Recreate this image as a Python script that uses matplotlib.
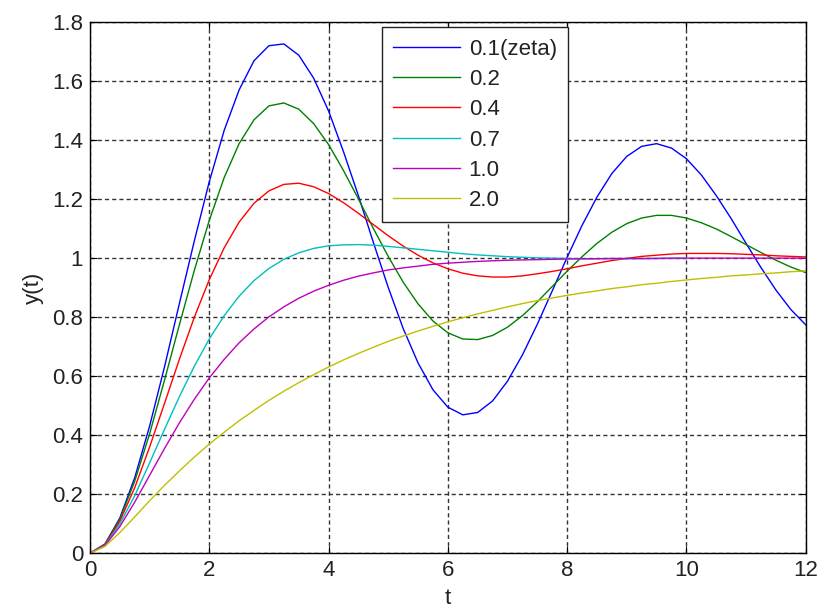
import matplotlib
matplotlib.use("Agg")
import matplotlib.pyplot as plt

plt.rcParams['font.family'] = ['Liberation Sans', 'DejaVu Sans']

t = [i * 0.25 for i in range(49)]

y_01 = [0, 0.031, 0.119, 0.256, 0.431, 0.632, 0.847, 1.059, 1.259, 1.433,
        1.570, 1.669, 1.720, 1.726, 1.688, 1.610, 1.499, 1.361, 1.212, 1.054,
        0.901, 0.762, 0.645, 0.554, 0.495, 0.469, 0.477, 0.516, 0.583, 0.672,
        0.776, 0.889, 1.003, 1.111, 1.207, 1.287, 1.345, 1.379, 1.388, 1.373,
        1.337, 1.282, 1.212, 1.134, 1.050, 0.968, 0.892, 0.826, 0.774]
y_02 = [0, 0.030, 0.115, 0.244, 0.405, 0.587, 0.775, 0.959, 1.128, 1.273,
        1.388, 1.469, 1.516, 1.526, 1.505, 1.456, 1.385, 1.297, 1.201, 1.101,
        1.006, 0.919, 0.845, 0.787, 0.747, 0.726, 0.724, 0.738, 0.766, 0.805,
        0.852, 0.904, 0.956, 1.005, 1.050, 1.088, 1.117, 1.136, 1.145, 1.145,
        1.136, 1.120, 1.099, 1.073, 1.046, 1.019, 0.993, 0.970, 0.951]
y_04 = [0, 0.029, 0.108, 0.222, 0.360, 0.508, 0.658, 0.800, 0.927, 1.035,
        1.122, 1.186, 1.228, 1.250, 1.254, 1.242, 1.219, 1.188, 1.152, 1.114,
        1.076, 1.041, 1.010, 0.984, 0.964, 0.949, 0.940, 0.936, 0.936, 0.940,
        0.947, 0.955, 0.964, 0.974, 0.983, 0.992, 0.999, 1.006, 1.010, 1.014,
        1.016, 1.016, 1.016, 1.015, 1.013, 1.011, 1.008, 1.006, 1.004]
# the 0.7 curve stops at t = 10
y_07 = [0, 0.027, 0.099, 0.195, 0.306, 0.420, 0.531, 0.634, 0.726, 0.805,
        0.871, 0.924, 0.965, 0.996, 1.018, 1.033, 1.042, 1.045, 1.046, 1.044,
        1.040, 1.035, 1.030, 1.025, 1.020, 1.015, 1.011, 1.008, 1.005, 1.003,
        1.001, 1.000, 0.999, 0.998, 0.998, 0.998, 0.998, 0.998, 0.999, 0.999,
        0.999]
y_10 = [0, 0.026, 0.090, 0.173, 0.264, 0.355, 0.442, 0.522, 0.594, 0.657,
        0.713, 0.760, 0.801, 0.835, 0.864, 0.888, 0.908, 0.925, 0.939, 0.950,
        0.960, 0.967, 0.973, 0.979, 0.983, 0.986, 0.989, 0.991, 0.993, 0.994,
        0.995, 0.996, 0.997, 0.998, 0.998, 0.999, 0.999, 0.999, 0.999, 1.0,
        1.0, 1.0, 1.0, 1.0, 1.0, 1.0, 1.0, 1.0, 1.0]
y_20 = [0, 0.023, 0.070, 0.123, 0.178, 0.230, 0.279, 0.326, 0.370, 0.410,
        0.449, 0.484, 0.518, 0.549, 0.578, 0.605, 0.631, 0.655, 0.677, 0.698,
        0.718, 0.736, 0.753, 0.769, 0.784, 0.798, 0.811, 0.823, 0.835, 0.846,
        0.856, 0.865, 0.874, 0.882, 0.889, 0.897, 0.903, 0.910, 0.915, 0.921,
        0.926, 0.931, 0.935, 0.940, 0.943, 0.947, 0.950, 0.954, 0.957]

labels = ['0.1(zeta)', '0.2', '0.4', '0.7', '1.0', '2.0']
series = [y_01, y_02, y_04, y_07, y_10, y_20]
colors = ['#0000ff', '#008000', '#ff0000', '#00bfbf', '#bf00bf', '#bfbf00']

fig = plt.figure(figsize=(8.18, 6.14), dpi=100)
ax = fig.add_axes([0.110, 0.099, 0.875, 0.865])

for y, lab, c in zip(series, labels, colors):
    ax.plot(t[:len(y)], y, color=c, linewidth=1.0, label=lab)

ax.set_xlim(0, 12)
ax.set_ylim(0, 1.8)
ax.set_xticks(range(0, 13, 2))
ax.set_yticks([0, 0.2, 0.4, 0.6, 0.8, 1, 1.2, 1.4, 1.6, 1.8])
ax.set_yticklabels(['0', '0.2', '0.4', '0.6', '0.8', '1', '1.2', '1.4', '1.6', '1.8'])
ax.tick_params(direction='in', top=True, right=True, labelsize=16, length=5,
               pad=5, labelcolor='#222222')
ax.grid(True, color='#333333', linestyle=(0, (3, 2.2)), linewidth=1.0)
for s in ax.spines.values():
    s.set_linewidth(1.0)

ax.set_xlabel('t', fontsize=16, labelpad=5, color='#222222')
ax.set_ylabel('y(t)', fontsize=16, labelpad=6, color='#222222')

leg = ax.legend(loc='upper left', bbox_to_anchor=(0.408, 0.99), fontsize=16,
                handlelength=3.0, frameon=True, fancybox=False, framealpha=1,
                borderpad=0.5, labelspacing=0.42, handletextpad=0.4,
                borderaxespad=0)
leg.get_frame().set_edgecolor('#222222')
leg.get_frame().set_linewidth(1.0)
for txt in leg.get_texts():
    txt.set_color('#222222')

fig.savefig('out.png', dpi=100)
